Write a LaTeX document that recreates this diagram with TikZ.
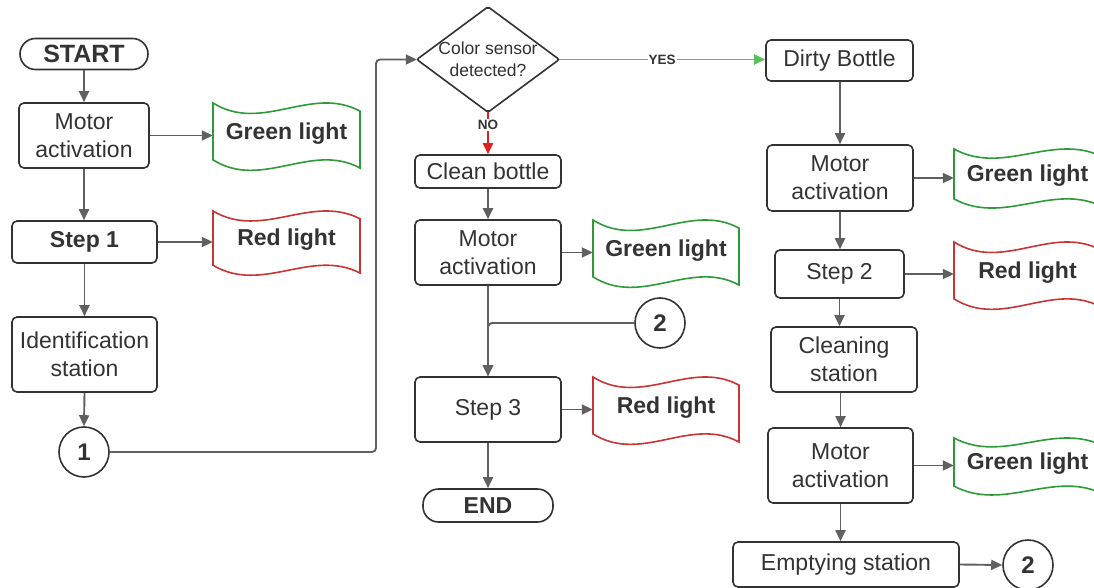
\documentclass[tikz,border=0pt]{standalone}
\usepackage{fontspec}
\setmainfont{Liberation Sans}
\usetikzlibrary{arrows.meta,calc}

\definecolor{ink}{HTML}{333333}
\definecolor{wire}{HTML}{606060}
\definecolor{yesgreen}{HTML}{5BBF5B}
\definecolor{bangreen}{HTML}{2E9A3A}
\definecolor{banred}{HTML}{C93434}
\definecolor{nored}{HTML}{E02020}

% Wavy "tape" banner: name, centre x, centre y, width, height, colour, text
\newcommand\wavebanner[7]{%
  \pgfmathsetmacro\bl{#2-#4/2}%
  \pgfmathsetmacro\br{#2+#4/2}%
  \pgfmathsetmacro\bt{#3-#5/2}%
  \pgfmathsetmacro\ca{\bl+#4/3}%
  \pgfmathsetmacro\cb{\bl+2*#4/3}%
  \draw[draw=#6, line width=1.6pt, fill=white]
    (\bl,\bt) .. controls (\ca,{\bt+0.47*#5}) and (\cb,{\bt-0.28*#5}) .. (\br,{\bt+0.125*#5})
    -- (\br,{\bt+#5})
    .. controls (\cb,{\bt+0.595*#5}) and (\ca,{\bt+1.345*#5}) .. (\bl,{\bt+0.875*#5})
    -- cycle;
  \node[inner sep=0pt, minimum width=#4pt, minimum height=#5pt, font=\bfseries\fontsize{23}{28}\selectfont]
    (#1) at (#2,{#3-2}) {#7};%
}

\begin{document}
\begin{tikzpicture}[x=1pt,y=-1pt,
  font=\fontsize{23}{28}\selectfont, text=ink,
  sz/.style 2 args={minimum width=#1pt, minimum height=#2pt},
  box/.style={draw=ink, line width=1.6pt, rounded corners=5pt, align=center,
    inner sep=0pt, fill=white},
  pill/.style={draw=ink, line width=1.6pt, rounded corners=15.5pt, inner sep=0pt,
    fill=white, font=\bfseries\fontsize{25}{28}\selectfont},
  onpage/.style={circle, draw=ink, line width=1.6pt, minimum size=50pt, inner sep=0pt,
    fill=white, font=\bfseries\fontsize{24}{28}\selectfont},
  tip/.style={-{Triangle[length=11pt,width=10pt]}},
  conn/.style={draw=wire, line width=1.9pt, tip},
  flowlabel/.style={fill=white, inner sep=1pt, text=ink,
    font=\bfseries\fontsize{13.5}{15}\selectfont},
]
\fill[white] (0,0) rectangle (1094,588);
\useasboundingbox (0,0) rectangle (1094,588);
\clip (0,0) rectangle (1094,588);

% ---- left column
\node[pill, sz={128}{31}] (start) at (84,54) {START};
\node[box, sz={130}{65}] (mot1) at (84,135.5) {Motor\\activation};
\node[box, sz={145}{42}, font=\bfseries\fontsize{23}{28}\selectfont] (step1) at (84.5,242) {Step 1};
\node[box, sz={145}{75}] (ident) at (84.5,354.5) {Identification\\station};
\node[onpage] (c1) at (84,452) {1};
\wavebanner{green1}{286.5}{135.5}{147}{65}{bangreen}{Green light}
\wavebanner{red1}{286.5}{242}{147}{62}{banred}{Red light}

% ---- middle column
\node[sz={142}{105}, inner sep=0pt, align=center, font=\fontsize{17.5}{22}\selectfont]
  (dia) at (488,59.5) {Color sensor\\detected?};
\draw[ink, line width=1.6pt, rounded corners=2pt]
  (dia.west) -- (dia.north) -- (dia.east) -- (dia.south) -- cycle;
\node[box, sz={146}{33}] (clean) at (488,171.5) {Clean bottle};
\node[box, sz={146}{65}] (mot2) at (488,252.5) {Motor\\activation};
\node[onpage] (c2m) at (660,323) {2};
\node[box, sz={146}{65}] (step3) at (488,409.5) {Step 3};
\node[pill, sz={130}{33}, font=\bfseries\fontsize{23}{28}\selectfont] (end) at (488,505.5) {END};
\wavebanner{green2}{666}{252.5}{146}{65}{bangreen}{Green light}
\wavebanner{red2}{666}{409.5}{146}{65}{banred}{Red light}

% ---- right column
\node[box, sz={147}{41}] (dirty) at (839.5,60.5) {Dirty Bottle};
\node[box, sz={146}{66}] (mot3) at (840,178) {Motor\\activation};
\node[box, sz={129}{48}] (step2) at (839.5,274) {Step 2};
\node[box, sz={146}{65}] (cleanst) at (844,359.5) {Cleaning\\station};
\node[box, sz={145}{75}] (mot4) at (840.5,465.5) {Motor\\activation};
\node[box, sz={226}{45}] (empty) at (846,564.5) {Emptying station};
\node[onpage] (c2r) at (1028,565) {2};
\wavebanner{green3}{1027.5}{177.5}{147}{57}{bangreen}{Green light}
\wavebanner{red3}{1027.5}{274.5}{147}{65}{banred}{Red light}
\wavebanner{green4}{1027.5}{465.5}{147}{55}{bangreen}{Green light}

% ---- connectors, left column
\draw[conn] (start.south) -- (mot1.north);
\draw[conn] (mot1.south) -- (mot1.south |- step1.north);
\draw[conn] (step1.south) -- (ident.north);
\draw[conn] (ident.south) -- (c1.north);
\draw[conn] (mot1.east) -- (mot1.east -| green1.west);
\draw[conn] (step1.east) -- (step1.east -| red1.west);
\coordinate (bend) at (376,59.5);
\draw[conn, rounded corners=4pt] (c1.east) -| (bend) -- (dia.west);

% ---- connectors, middle column
\draw[draw=yesgreen, line width=1.9pt, tip] (dia.east) -- node[flowlabel, pos=0.5] {YES} (dia.east -| dirty.west);
\draw[draw=nored, line width=1.9pt, tip] (dia.south) -- node[flowlabel, pos=0.3] {NO} (clean.north);
\draw[conn] (clean.south) -- (mot2.north);
\draw[conn] (mot2.east) -- (mot2.east -| green2.west);
\draw[conn] (mot2.south) -- (step3.north);
\draw[conn, rounded corners=4pt] (c2m.west) -| (step3.north);
\draw[conn] (step3.east) -- (step3.east -| red2.west);
\draw[conn] (step3.south) -- (end.north);

% ---- connectors, right column
\draw[conn] (dirty.south -| mot3.north) -- (mot3.north);
\draw[conn] (mot3.east) -- (mot3.east -| green3.west);
\draw[conn] (mot3.south) -- (mot3.south |- step2.north);
\draw[conn] (step2.east) -- (step2.east -| red3.west);
\draw[conn] (step2.south) -- (step2.south |- cleanst.north);
\draw[conn] (mot4.north |- cleanst.south) -- (mot4.north);
\draw[conn] (mot4.east) -- (mot4.east -| green4.west);
\draw[conn] (mot4.south) -- (mot4.south |- empty.north);
\draw[conn] (empty.east) -- (c2r.west);
\end{tikzpicture}
\end{document}
